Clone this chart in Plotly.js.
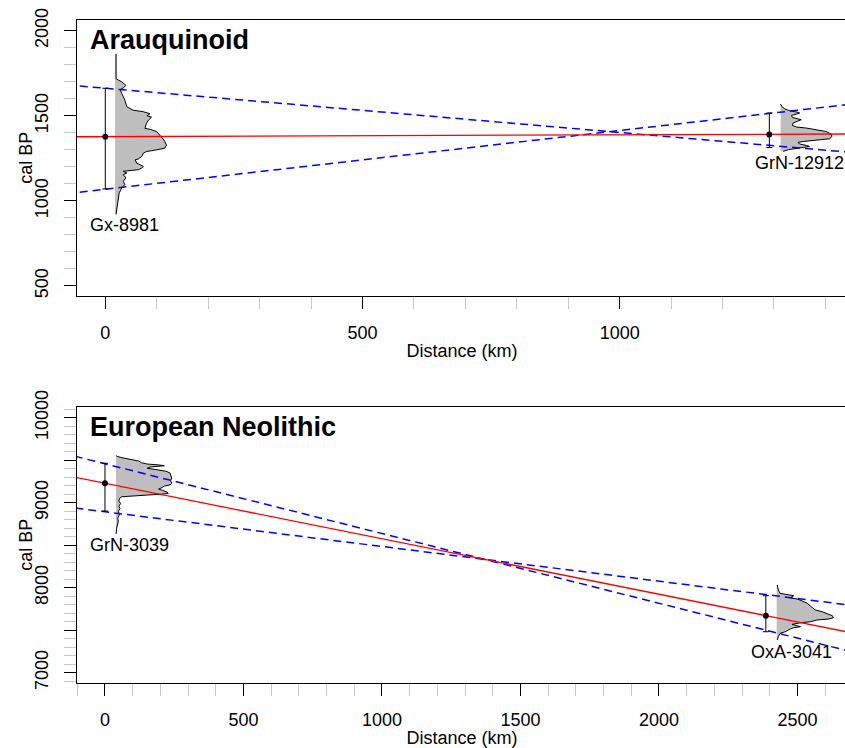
<!DOCTYPE html>
<html><head><meta charset="utf-8">
<script src="https://cdn.plot.ly/plotly-3.0.1.min.js"></script>
<style>html,body{margin:0;padding:0;overflow:hidden;background:#fff}#chart{width:860px;height:748px}</style>
</head><body><div id="chart"></div>
<script>
// ---------- Arauquinoid (top panel) ----------
const arauLabels = ['Gx-8981', 'GrN-12912'];
const arauDistance = [0, 1291];          // km
const arauMean = [1377, 1390];           // cal BP
const arauHi = [1662, 1516];
const arauLo = [1070, 1314];
const arauDensBase = [19, 1313];         // km, left edge of density

const gx8981Cal = [1864,1718,1699,1679,1666,1654,1631,1592,1553,1533,1524,1512,1500,1492,1475,1456,1426,1421,1407,1388,1358,1329,1310,1300,1290,1281,1261,1246,1242,1222,1213,1203,1193,1183,1179,1174,1164,1154,1135,1115,1096,1076,1047,1008,969,921];
const gx8981Dens = [0.02,0.02,0.13,0.21,0.17,0.10,0.13,0.19,0.23,0.35,0.55,0.68,0.62,0.71,0.65,0.61,0.58,0.68,0.81,0.87,0.95,1.0,0.97,0.81,0.61,0.55,0.52,0.45,0.39,0.42,0.48,0.55,0.52,0.45,0.32,0.16,0.23,0.16,0.21,0.16,0.19,0.13,0.08,0.06,0.03,0.02];

const grn12912Cal = [1569,1555,1541,1529,1522,1516,1510,1502,1490,1482,1477,1467,1457,1443,1434,1428,1418,1408,1393,1379,1365,1358,1349,1344,1334,1326,1320,1314,1307,1301,1291];
const grn12912Dens = [0,0.02,0.08,0.18,0.31,0.37,0.31,0.21,0.23,0.31,0.40,0.32,0.24,0.23,0.31,0.50,0.69,0.88,0.98,1.0,0.95,0.69,0.44,0.34,0.37,0.50,0.56,0.44,0.31,0.15,0.05];

const arauLineX = [-100, 1500];
const arauFit = [1376.5, 1393.7];
const arauBandA = [1688, 1272];
const arauBandB = [1034, 1586];

// ---------- European Neolithic (bottom panel) ----------
const neoLabels = ['GrN-3039', 'OxA-3041'];
const neoDistance = [0, 2386];
const neoMean = [9228, 7671];
const neoHi = [9464, 7906];
const neoLo = [8902, 7482];
const neoDensBase = [40, 2425];

const grn3039Cal = [9555,9545,9530,9510,9490,9470,9455,9445,9435,9420,9405,9390,9370,9350,9320,9290,9260,9230,9210,9195,9175,9160,9145,9125,9110,9100,9090,9080,9070,9050,9020,8990,8960,8930,8900,8860,8820,8780,8740,8700,8630];
const grn3039Dens = [0,0.02,0.10,0.25,0.40,0.45,0.55,0.75,0.85,0.60,0.55,0.70,0.88,0.95,0.97,0.98,0.96,0.98,0.95,0.85,0.80,0.75,0.82,0.90,0.92,0.80,0.55,0.30,0.10,0.06,0.05,0.08,0.05,0.07,0.04,0.06,0.03,0.04,0.02,0.01,0];

const oxa3041Cal = [8032,7973,7934,7922,7914,7906,7882,7867,7844,7816,7765,7738,7718,7687,7671,7647,7632,7620,7600,7588,7569,7553,7541,7529,7514,7482,7463,7424,7385];
const oxa3041Dens = [0.01,0.03,0.06,0.15,0.24,0.30,0.24,0.36,0.45,0.54,0.63,0.68,0.80,0.92,0.98,1.0,0.92,0.71,0.60,0.42,0.27,0.36,0.42,0.30,0.24,0.15,0.06,0.03,0.01];

const neoLineX = [-200, 2800];
const neoFit = [9359, 7401];
const neoBandA = [9622, 7161];
const neoBandB = [8975, 7750];

// ---------- drawing ----------
const FONT = 'Liberation Sans, Arial, Helvetica, sans-serif';
const traces = [];

function density(cal, dens, base, width, xa, ya) {
  const xs = dens.map(d => base + d * width);
  traces.push({x: [base].concat(xs, [base]), y: [cal[0]].concat(cal, [cal[cal.length-1]]),
    xaxis: xa, yaxis: ya, mode: 'lines', fill: 'toself', fillcolor: '#bebebe',
    line: {width: 0, color: 'rgba(0,0,0,0)'}, hoverinfo: 'skip', showlegend: false});
  traces.push({x: xs, y: cal, xaxis: xa, yaxis: ya, mode: 'lines',
    line: {color: 'black', width: 1}, showlegend: false});
}
function lines(lx, fit, a, b, xa, ya) {
  traces.push({x: lx, y: a, xaxis: xa, yaxis: ya, mode: 'lines', line: {color: '#0000ff', width: 1.5, dash: '8px,5px'}, showlegend: false});
  traces.push({x: lx, y: b, xaxis: xa, yaxis: ya, mode: 'lines', line: {color: '#0000ff', width: 1.5, dash: '8px,5px'}, showlegend: false});
  traces.push({x: lx, y: fit, xaxis: xa, yaxis: ya, mode: 'lines', line: {color: '#ff0000', width: 1.3}, showlegend: false});
}
function points(dist, mean, hi, lo, labels, xa, ya) {
  traces.push({x: dist, y: mean, text: labels, xaxis: xa, yaxis: ya, mode: 'markers',
    marker: {color: 'black', size: 6},
    error_y: {type: 'data', symmetric: false, array: hi.map((h, i) => h - mean[i]),
      arrayminus: lo.map((l, i) => mean[i] - l), color: 'black', thickness: 1, width: 3},
    showlegend: false});
}

density(gx8981Cal, gx8981Dens, arauDensBase[0], 100, 'x', 'y');
density(grn12912Cal, grn12912Dens, arauDensBase[1], 100, 'x', 'y');
lines(arauLineX, arauFit, arauBandA, arauBandB, 'x', 'y');
points(arauDistance, arauMean, arauHi, arauLo, arauLabels, 'x', 'y');

density(grn3039Cal, grn3039Dens, neoDensBase[0], 205, 'x2', 'y2');
density(oxa3041Cal, oxa3041Dens, neoDensBase[1], 205, 'x2', 'y2');
lines(neoLineX, neoFit, neoBandA, neoBandB, 'x2', 'y2');
points(neoDistance, neoMean, neoHi, neoLo, neoLabels, 'x2', 'y2');

const tickFont = {family: FONT, size: 18, color: 'black'};
function xAxis(range, anchor, dtick) {
  return {range: range, anchor: anchor, domain: [0, 1], showline: true, mirror: true, linecolor: 'black', linewidth: 1,
    ticks: 'outside', ticklen: 12, tickcolor: 'black', tickwidth: 1, tick0: 0, dtick: dtick,
    minor: {ticks: 'outside', ticklen: 12, tickcolor: '#c8c8c8', tickwidth: 1, tick0: 0, dtick: 100, showgrid: false},
    tickfont: tickFont, ticklabelstandoff: 8, showgrid: false, zeroline: false,
    title: {text: 'Distance (km)', font: tickFont, standoff: 2}};
}
function yAxis(range, anchor, domain, vals, texts) {
  return {range: range, anchor: anchor, domain: domain, showline: true, mirror: true, linecolor: 'black', linewidth: 1,
    ticks: 'outside', ticklen: 12, tickcolor: 'black', tickwidth: 1, tickmode: 'array', tickvals: vals, ticktext: texts,
    minor: {ticks: 'outside', ticklen: 12, tickcolor: '#c8c8c8', tickwidth: 1, tick0: 0, dtick: 100, showgrid: false},
    tickfont: tickFont, tickangle: -90, ticklabelstandoff: 9, showgrid: false, zeroline: false};
}

const annFont = {family: FONT, size: 18, color: 'black'};
const titleFont = {family: FONT, size: 27, color: 'black', weight: 'bold'};
const layout = {
  width: 860, height: 748, margin: {l: 77, r: 13, t: 20, b: 65},
  paper_bgcolor: 'white', plot_bgcolor: 'white', showlegend: false,
  xaxis: xAxis([-55, 1442], 'y', 500),
  yaxis: yAxis([441, 2063], 'x', [0.5837, 1], [500, 1000, 1500, 2000], ['500', '1000', '1500', '2000']),
  xaxis2: xAxis([-101, 2679], 'y2', 500),
  yaxis2: yAxis([6879, 10126], 'x2', [0, 0.4163], [7000, 7500, 8000, 8500, 9000, 9500, 10000], ['7000', '', '8000', '', '9000', '', '10000']),
  annotations: [
    {text: 'cal BP', xref: 'paper', yref: 'paper', x: -0.0666, y: 0.7918, xanchor: 'center', yanchor: 'middle', textangle: -90, showarrow: false, font: tickFont},
    {text: 'cal BP', xref: 'paper', yref: 'paper', x: -0.0666, y: 0.2082, xanchor: 'center', yanchor: 'middle', textangle: -90, showarrow: false, font: tickFont},
    {text: '<b>Arauquinoid</b>', xref: 'x domain', yref: 'y domain', x: 0.0143, y: 0.929, xanchor: 'left', yanchor: 'middle', showarrow: false, font: titleFont},
    {text: '<b>European Neolithic</b>', xref: 'x2 domain', yref: 'y2 domain', x: 0.0143, y: 0.929, xanchor: 'left', yanchor: 'middle', showarrow: false, font: titleFont},
    {text: arauLabels[0], xref: 'x', yref: 'y', x: 38, y: 861, showarrow: false, font: annFont},
    {text: arauLabels[1], xref: 'x', yref: 'y', x: 1350, y: 1225, showarrow: false, font: annFont},
    {text: neoLabels[0], xref: 'x2', yref: 'y2', x: 90, y: 8502, showarrow: false, font: annFont},
    {text: neoLabels[1], xref: 'x2', yref: 'y2', x: 2480, y: 7244, showarrow: false, font: annFont}
  ]
};
Plotly.newPlot('chart', traces, layout, {displayModeBar: false, staticPlot: true});
</script></body></html>
